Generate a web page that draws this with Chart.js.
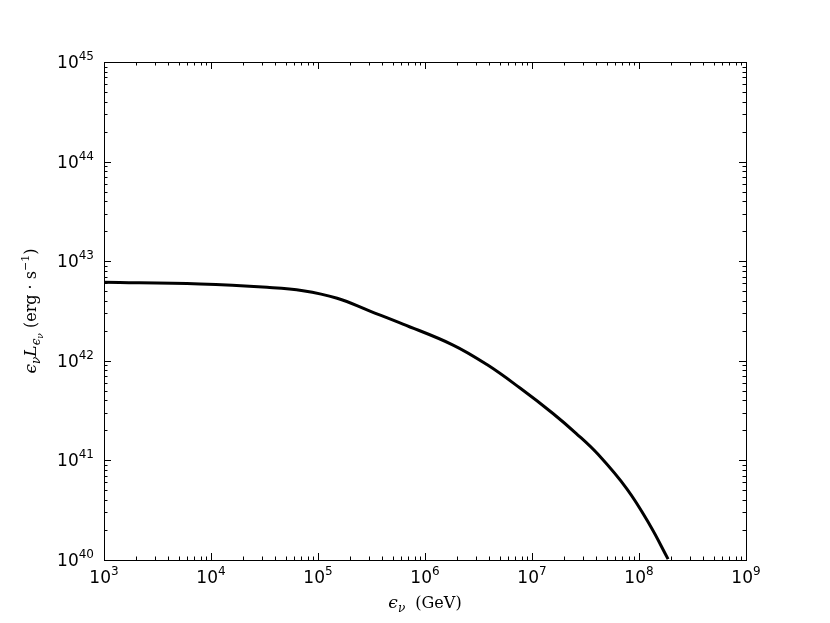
<!DOCTYPE html>
<html>
<head>
<meta charset="utf-8">
<script src="https://cdn.jsdelivr.net/npm/chart.js@4"></script>
<style>
html,body{margin:0;padding:0;background:#fff;}
#wrap{width:830px;height:623px;}
</style>
</head>
<body>
<div id="wrap"><canvas id="c" width="830" height="623"></canvas></div>
<script>
// Data
const energyGeV = [1e3, 7.89e3, 3.34e4, 7.24e4, 1.51e5, 3.06e5, 6.22e5, 1.83e6, 3.79e6, 7.73e6, 1.57e7, 2.58e7, 4.14e7, 7.73e7, 1.27e8, 1.87e8];
const luminosity = [6.14e42, 5.90e42, 5.47e42, 5.06e42, 4.25e42, 3.16e42, 2.34e42, 1.44e42, 9.16e41, 5.33e41, 2.96e41, 1.87e41, 1.15e41, 5.15e40, 2.22e40, 1.02e40];
const xDecades = [3, 4, 5, 6, 7, 8, 9];
const yDecades = [40, 41, 42, 43, 44, 45];

const SANS = '"DejaVu Sans", sans-serif';
const SERIF = '"DejaVu Serif", "Liberation Serif", serif';

function drawRuns(ctx, runs, x, y, align) {
  let total = 0;
  runs.forEach(r => { ctx.font = r.f; total += ctx.measureText(r.t).width; });
  let cx = align === 'center' ? x - total / 2 : (align === 'right' ? x - total : x);
  runs.forEach(r => {
    ctx.font = r.f;
    ctx.fillText(r.t, cx, y + (r.dy || 0));
    cx += ctx.measureText(r.t).width;
  });
  return total;
}

const axesPlugin = {
  id: 'axesPlugin',
  afterDraw(chart) {
    const ctx = chart.ctx;
    const a = chart.chartArea;
    const xs = chart.scales.x, ys = chart.scales.y;
    ctx.save();
    ctx.strokeStyle = '#000';
    ctx.fillStyle = '#000';
    ctx.lineWidth = 1;
    ctx.strokeRect(Math.round(a.left) + 0.5, Math.round(a.top) + 0.5, Math.round(a.right - a.left), Math.round(a.bottom - a.top));
    const MAJ = 7, MIN = 3.5;
    ctx.beginPath();
    for (let d = xDecades[0]; d <= xDecades[xDecades.length - 1]; d++) {
      for (let k = 1; k <= 9; k++) {
        const v = k * Math.pow(10, d);
        if (v > Math.pow(10, xDecades[xDecades.length - 1])) break;
        const px = Math.round(xs.getPixelForValue(v)) + 0.5;
        const L = k === 1 ? MAJ : MIN;
        ctx.moveTo(px, a.bottom); ctx.lineTo(px, a.bottom - L);
        ctx.moveTo(px, a.top); ctx.lineTo(px, a.top + L);
      }
    }
    for (let d = yDecades[0]; d <= yDecades[yDecades.length - 1]; d++) {
      for (let k = 1; k <= 9; k++) {
        const v = k * Math.pow(10, d);
        if (v > Math.pow(10, yDecades[yDecades.length - 1])) break;
        const py = Math.round(ys.getPixelForValue(v)) + 0.5;
        const L = k === 1 ? MAJ : MIN;
        ctx.moveTo(a.left, py); ctx.lineTo(a.left + L, py);
        ctx.moveTo(a.right, py); ctx.lineTo(a.right - L, py);
      }
    }
    ctx.stroke();

    ctx.textBaseline = 'alphabetic';
    ctx.textAlign = 'left';
    xDecades.forEach(d => {
      const px = xs.getPixelForValue(Math.pow(10, d));
      drawRuns(ctx, [
        {t: '10', f: '17px ' + SANS},
        {t: String(d), f: '12px ' + SANS, dy: -8}
      ], px, 583, 'center');
    });
    yDecades.forEach(d => {
      const py = ys.getPixelForValue(Math.pow(10, d));
      drawRuns(ctx, [
        {t: '10', f: '17px ' + SANS},
        {t: String(d), f: '12px ' + SANS, dy: -8}
      ], 94, py + 6, 'right');
    });

    drawRuns(ctx, [
      {t: 'ϵ', f: 'italic 17px ' + SERIF},
      {t: 'ν', f: 'italic 12px ' + SERIF, dy: 4},
      {t: '  (GeV)', f: '16px ' + SERIF}
    ], (a.left + a.right) / 2, 608, 'center');

    ctx.translate(36, (a.top + a.bottom) / 2);
    ctx.rotate(-Math.PI / 2);
    drawRuns(ctx, [
      {t: 'ϵ', f: 'italic 17px ' + SERIF},
      {t: 'ν', f: 'italic 12px ' + SERIF, dy: 4},
      {t: 'L', f: 'italic 17px ' + SERIF},
      {t: 'ϵ', f: 'italic 12px ' + SERIF, dy: 4},
      {t: 'ν', f: 'italic 9px ' + SERIF, dy: 7},
      {t: ' (erg · s', f: '16px ' + SERIF},
      {t: '−1', f: '11px ' + SERIF, dy: -7},
      {t: ')', f: '16px ' + SERIF}
    ], 0, 0, 'center');
    ctx.restore();
  }
};

new Chart(document.getElementById('c'), {
  type: 'line',
  data: {
    datasets: [{
      data: energyGeV.map((e, i) => ({x: e, y: luminosity[i]})),
      borderColor: '#000',
      borderWidth: 3,
      pointRadius: 0,
      fill: false,
      tension: 0.4
    }]
  },
  options: {
    responsive: false,
    animation: false,
    devicePixelRatio: 1,
    layout: {padding: {left: 104, right: 84, top: 62, bottom: 63}},
    plugins: {legend: {display: false}, tooltip: {enabled: false}},
    scales: {
      x: {
        type: 'logarithmic', min: 1e3, max: 1e9,
        grid: {display: false, drawTicks: false},
        border: {display: false},
        ticks: {display: false}
      },
      y: {
        type: 'logarithmic', min: 1e40, max: 1e45,
        grid: {display: false, drawTicks: false},
        border: {display: false},
        ticks: {display: false}
      }
    }
  },
  plugins: [axesPlugin]
});
</script>
</body>
</html>
